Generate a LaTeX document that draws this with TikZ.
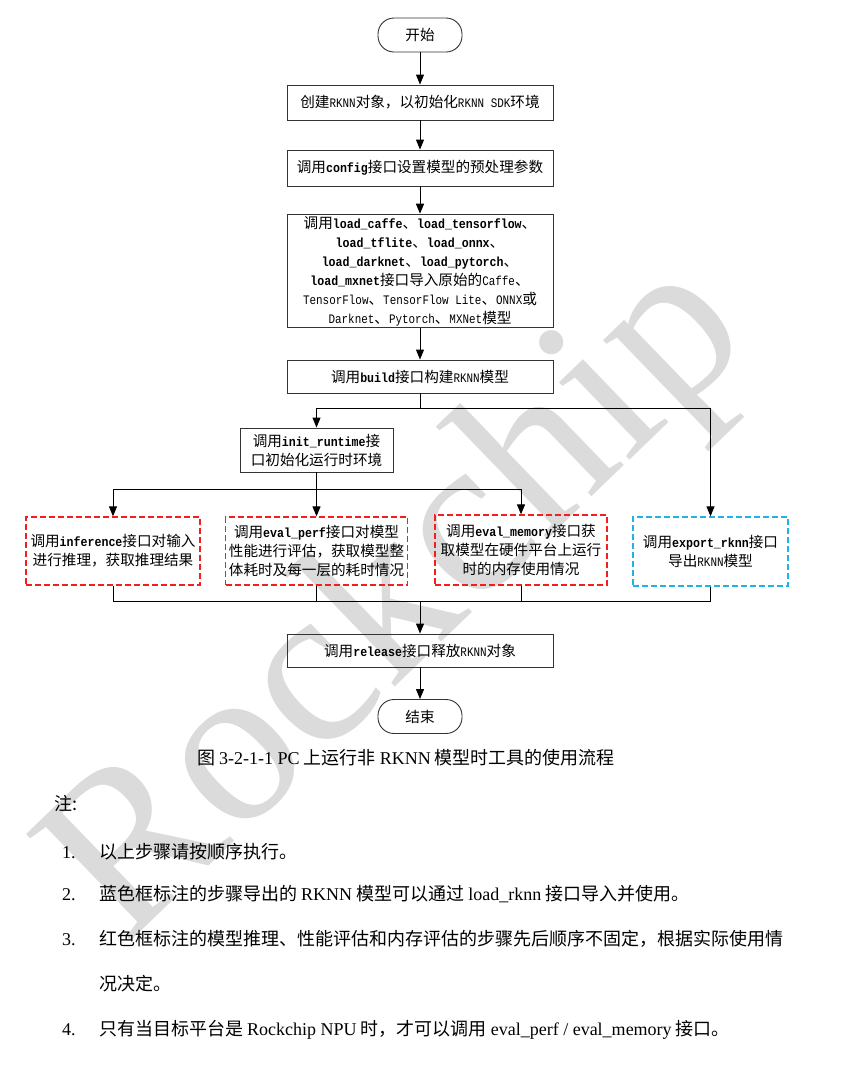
\documentclass[tikz,border=0pt]{standalone}
\usepackage{fontspec}
\setmainfont{Liberation Serif}
\newfontfamily\zhf{Noto Sans CJK SC}
\newfontfamily\monof{Liberation Mono}[FakeStretch=0.88]
\newfontfamily\monol{Liberation Mono}[FakeStretch=0.84]
\newfontfamily\lser{Liberation Serif}
\usetikzlibrary{arrows.meta}
\newcommand\cd[1]{{\monof\bfseries\fontsize{13.2}{19}\selectfont #1}}
\newcommand\lt[1]{{\monol\fontsize{13}{19}\selectfont #1}}
\newcommand\lr[1]{{\lser #1}}
\newcommand\boxfont{\zhf\fontsize{14.6}{19}\selectfont}
\newcommand\notefont{\zhf\fontsize{18}{20}\selectfont}
\definecolor{wmblue}{RGB}{30,180,235}
\definecolor{wmred}{RGB}{245,30,30}
\tikzset{
  box/.style={draw=black!80, line width=0.9pt, minimum width=266pt, inner sep=2pt, align=center, font=\boxfont},
  redbox/.style={draw=wmred, dash pattern=on 6pt off 3pt, line width=1.3pt, align=center, font=\boxfont, inner sep=1pt},
  bluebox/.style={draw=wmblue, dash pattern=on 6pt off 3pt, line width=1.3pt, align=center, font=\boxfont, inner sep=1pt},
  term/.style={draw=black!80, line width=0.9pt, rounded corners=16pt, minimum width=84pt, minimum height=34pt, font=\boxfont},
  arr/.style={-{Triangle[length=10pt,width=8pt]}, line width=1pt},
  ln/.style={line width=1pt},
  note/.style={anchor=base west, inner sep=0pt, font=\notefont}
}
\begin{document}
\begin{tikzpicture}[x=1pt,y=-1pt]
\fill[white] (0,0) rectangle (860,1069);
\useasboundingbox (0,0) rectangle (860,1069);
% watermark
\node[text=black!14, font=\lser\fontsize{228}{228}\selectfont, rotate=44, inner sep=0pt] (wm) at (402,604) {Rockchip};
% nodes
\node[term] (start) at (420,35) {开始};
\node[box, minimum height=35pt] (b1) at (420,102.5) {创建\lt{RKNN}对象，以初始化\lt{RKNN SDK}环境};
\node[box, minimum height=36pt] (b2) at (420,168) {调用\cd{config}接口设置模型的预处理参数};
\node[box, minimum height=112pt] (b3) at (420,271) {调用\cd{load\_caffe}、\cd{load\_tensorflow}、\\
\cd{load\_tflite}、\cd{load\_onnx}、\\
\cd{load\_darknet}、\cd{load\_pytorch}、\\
\cd{load\_mxnet}接口导入原始的\lt{Caffe}、\\
\lt{TensorFlow}、\lt{TensorFlow Lite}、\lt{ONNX}或\\
\lt{Darknet}、\lt{Pytorch}、\lt{MXNet}模型};
\node[box, minimum height=33pt] (b4) at (420,376.5) {调用\cd{build}接口构建\lt{RKNN}模型};
\node[box, minimum width=153pt, minimum height=44pt] (init) at (316.5,450) {调用\cd{init\_runtime}接\\口初始化运行时环境};
\node[redbox, minimum width=174pt, minimum height=68pt] (inf) at (113,551) {调用\cd{inference}接口对输入\\进行推理，获取推理结果};
\node[redbox, minimum width=182pt, minimum height=68pt] (perf) at (316.5,551) {调用\cd{eval\_perf}接口对模型\\性能进行评估，获取模型整\\体耗时及每一层的耗时情况};
\node[redbox, minimum width=172pt, minimum height=70pt] (mem) at (521,550) {调用\cd{eval\_memory}接口获\\取模型在硬件平台上运行\\时的内存使用情况};
\node[bluebox, minimum width=155pt, minimum height=69pt] (exp) at (710.5,551.5) {调用\cd{export\_rknn}接口\\导出\lt{RKNN}模型};
\node[box, minimum height=33pt] (rel) at (420,650.5) {调用\cd{release}接口释放\lt{RKNN}对象};
\node[term] (end) at (420,716.5) {结束};
% connectors
\draw[arr] (start) -- (b1);
\draw[arr] (b1) -- (b2);
\draw[arr] (b2) -- (b3);
\draw[arr] (b3) -- (b4);
\coordinate (j1) at (420,408);
\draw[ln] (b4.south) -- (j1);
\draw[arr] (j1) -| (init.north);
\draw[arr] (j1) -| (exp.north);
\coordinate (j2) at (316.5,489);
\draw[ln] (init.south) -- (j2);
\draw[arr] (j2) -| (inf.north);
\draw[arr] (j2) -- (perf.north);
\draw[arr] (j2) -| (mem.north);
\coordinate (j3) at (420,601);
\draw[ln] (inf.south) |- (j3);
\draw[ln] (exp.south) |- (j3);
\draw[ln] (perf.south) -- (perf.south |- j3);
\draw[ln] (mem.south) -- (mem.south |- j3);
\draw[arr] (j3) -- (rel.north);
\draw[arr] (rel) -- (end);
% caption
\node[font=\zhf\fontsize{18}{20}\selectfont, inner sep=0pt] (cap) at (406,758) {图 \lr{3-2-1-1 PC} 上运行非 \lr{RKNN} 模型时工具的使用流程};
% notes
\node[note] (n0) at (54,810) {注:};
\node[note] (n1a) at (62,858) {\lr{1.}};
\node[note] (n1) at (99,858) {以上步骤请按顺序执行。};
\node[note] (n2a) at (62,900) {\lr{2.}};
\node[note] (n2) at (99,900) {蓝色框标注的步骤导出的 \lr{RKNN} 模型可以通过 \lr{load\_rknn} 接口导入并使用。};
\node[note] (n3a) at (62,945) {\lr{3.}};
\node[note] (n3) at (99,945) {红色框标注的模型推理、性能评估和内存评估的步骤先后顺序不固定，根据实际使用情};
\node[note] (n3b) at (99,990) {况决定。};
\node[note] (n4a) at (62,1035) {\lr{4.}};
\node[note] (n4) at (99,1035) {只有当目标平台是 \lr{Rockchip NPU} 时，才可以调用 \lr{eval\_perf / eval\_memory} 接口。};
\end{tikzpicture}
\end{document}
